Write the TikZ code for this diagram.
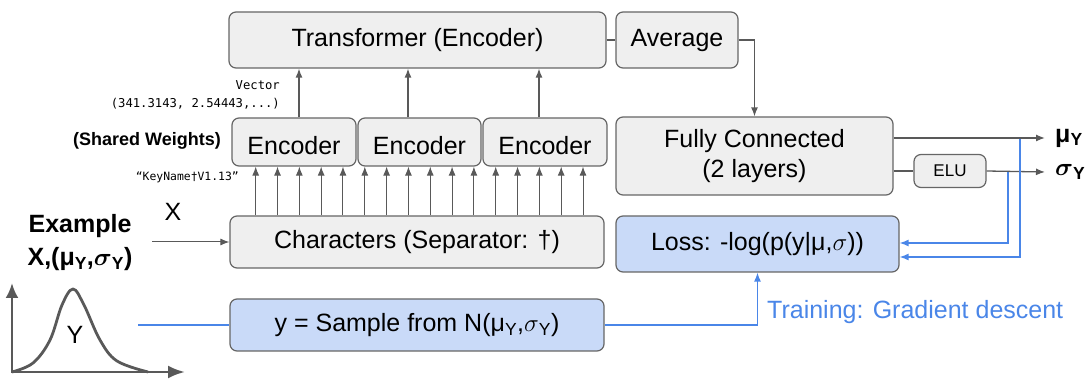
\documentclass[tikz,border=0pt]{standalone}
\usepackage{amsmath}
\usepackage{fontspec}
\setmainfont{Liberation Sans}
\setmonofont{DejaVu Sans Mono}
\usetikzlibrary{arrows.meta}

\definecolor{boxfill}{HTML}{EFEFEF}
\definecolor{boxline}{HTML}{666666}
\definecolor{linkgray}{HTML}{595959}
\definecolor{fbblue}{HTML}{4A86E8}
\definecolor{bluefill}{HTML}{C9DAF8}
\newcommand\mainfs{\fontsize{25}{30}\selectfont}
\newcommand\enctext{\raisebox{-4pt}[\height][\depth]{Encoder}}

\tikzset{
  box/.style={draw=boxline, fill=boxfill, rounded corners=7pt, line width=1.2pt, inner sep=0pt, font=\mainfs},
  bluebox/.style={box, fill=bluefill},
  link/.style={draw=linkgray, line width=1.3pt},
  fb/.style={draw=fbblue, line width=1.3pt},
  mono/.style={font=\ttfamily\fontsize{12.2}{18}\selectfont, inner sep=0pt}
}

\begin{document}
\begin{tikzpicture}[x=1pt,y=-1pt,>={Latex[length=9pt,width=7pt]}]
  \useasboundingbox (0,0) rectangle (1088,379);
  % encoder part
  \node[box,minimum width=377pt,minimum height=56pt] (trans) at (417.5,40) {Transformer (Encoder)};
  \node[box,minimum width=122pt,minimum height=56pt] (avg) at (677,40) {Average};
  \node[box,minimum width=124pt,minimum height=48pt] (enc1) at (294,142) {\enctext};
  \node[box,minimum width=123pt,minimum height=48pt] (enc2) at (419.5,142) {\enctext};
  \node[box,minimum width=124pt,minimum height=48pt] (enc3) at (545,142) {\enctext};
  \node[box,minimum width=374pt,minimum height=52pt] (chars) at (417,242) {Characters (Separator: †)};
  \node[bluebox,minimum width=374pt,minimum height=52pt] (sample) at (417,325)
    {y = Sample from N(μ\textsubscript{Y},$\sigma$\textsubscript{Y})};
  % head part
  \node[box,minimum width=277pt,minimum height=78pt,align=center] (fc) at (754.5,156) {Fully Connected\\(2 layers)};
  \node[box,minimum width=72pt,minimum height=33pt,font=\fontsize{17}{20}\selectfont] (elu) at (950,171) {ELU};
  \node[bluebox,minimum width=283pt,minimum height=56pt] (loss) at (757.5,244) {Loss: -log(p(y|μ,$\sigma$))};

  % labels
  \node[mono,align=right,anchor=east] (vec) at (280,95) {Vector\\(341.3143, 2.54443,...)};
  \node[mono,font=\ttfamily\fontsize{11.4}{14}\selectfont,anchor=east] (key) at (239,177) {“KeyName†V1.13”};
  \node[font=\bfseries\fontsize{18}{22}\selectfont,anchor=east,inner sep=0pt] (shared) at (221,141) {(Shared Weights)};
  \node[font=\bfseries\fontsize{25}{33}\selectfont,align=center] (example) at (80,243)
    {Example\\X,(μ\textsubscript{Y},$\boldsymbol{\sigma}$\textsubscript{Y})};
  \node[font=\mainfs] (xlab) at (173,212) {X};
  \node[font=\bfseries\mainfs,anchor=west,inner xsep=10pt,inner ysep=0pt] (muY) at (1045,138) {μ\textsubscript{Y}};
  \node[font=\bfseries\mainfs,anchor=west,inner xsep=10pt,inner ysep=0pt] (sigY) at (1045,172) {$\boldsymbol{\sigma}$\textsubscript{Y}};
  \node[font=\mainfs,text=fbblue,anchor=west,inner sep=0pt] (train) at (767,312) {Training: Gradient descent};

  % gray connectors
  \draw[link] (trans) -- (avg);
  \draw[link,->] (avg.east) -| (fc.north);
  \draw[link,->] ([xshift=5pt]enc1.north) -- ([xshift=5pt]enc1.north |- trans.south);
  \draw[link,->] ([xshift=-11.5pt]enc2.north) -- ([xshift=-11.5pt]enc2.north |- trans.south);
  \draw[link,->] ([xshift=-6pt]enc3.north) -- ([xshift=-6pt]enc3.north |- trans.south);
  \foreach \i in {0,...,15}
    \draw[link,line width=1pt,->] ([xshift=\i*21.82-161.3]chars.north) -- ([xshift=\i*21.82-161.3]chars.north |- enc1.south);
  \coordinate (xin) at (152,242);
  \draw[link,line width=1pt,->] (xin) -- (chars.west);
  \draw[link,->] ([yshift=18pt]fc.east) -- (muY.west);
  \draw[link] ([yshift=-15pt]fc.east) -- (elu.west);
  \draw[link,->] (elu.east) -- (sigY.west);

  % training feedback
  \coordinate (yin) at (138,325);
  \coordinate (mutap) at (1020,139);
  \coordinate (sigtap) at (1008,172);
  \draw[fb] (yin) -- (sample.west);
  \draw[fb,->] (sample.east) -| (loss.south);
  \draw[fb,->] (mutap) |- ([yshift=-13pt]loss.east);
  \draw[fb,->] (sigtap) |- ([yshift=1pt]loss.east);

  % distribution of Y
  \draw[linkgray,line width=2.8pt,{Latex[length=15pt,width=13pt]}-{Latex[length=17pt,width=13pt]}]
    (12,283) -- (12,372) -- (185,372);
  \draw[linkgray,line width=2.8pt,line join=round]
    plot[smooth,tension=0.6] coordinates {(12,372) (33,363) (50,340) (62,305) (73,289) (84,305) (100,340) (117,361) (148,372)};
  \node[font=\mainfs] (ylab) at (75,335) {Y};
\end{tikzpicture}
\end{document}
